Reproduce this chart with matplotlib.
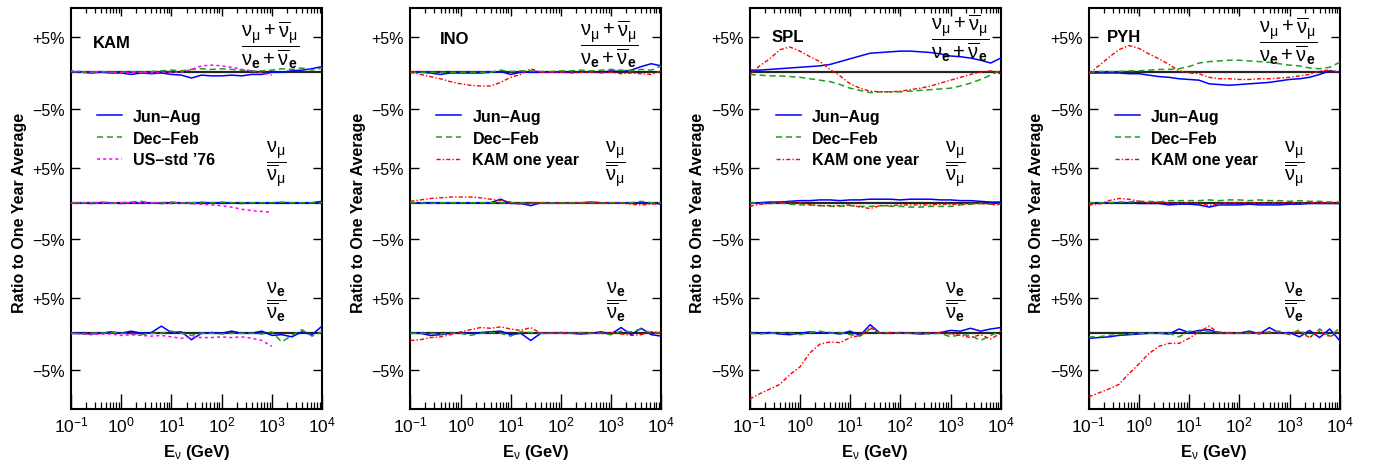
import numpy as np
import matplotlib
matplotlib.use("Agg")
import matplotlib.pyplot as plt
from matplotlib.transforms import blended_transform_factory
from matplotlib.ticker import (FixedLocator, FixedFormatter, NullLocator, NullFormatter,
                               LogLocator, LogFormatterMathtext)

plt.rcParams['font.family'] = ['Liberation Sans', 'DejaVu Sans']
plt.rcParams['mathtext.fontset'] = 'custom'
plt.rcParams['mathtext.rm'] = 'Liberation Sans'
plt.rcParams['mathtext.it'] = 'Liberation Sans'
plt.rcParams['mathtext.bf'] = 'Liberation Sans:bold'

# neutrino energy grid (GeV), 5 points per decade
E = [0.1, 0.158, 0.251, 0.398, 0.631, 1.0, 1.58, 2.51, 3.98, 6.31,
     10, 15.8, 25.1, 39.8, 63.1, 100, 158, 251, 398, 631,
     1000, 1580, 2510, 3980, 6310, 10000]

sites = ["KAM", "INO", "SPL", "PYH"]

# deviations from the one-year average, in percent
# order inside each site: (nu_mu+nubar_mu)/(nu_e+nubar_e), nu_mu/nubar_mu, nu_e/nubar_e
kam_jun = [
    [0, 0, -0.1, 0, -0.1, -0.1, -0.3, -0.1, -0.2, -0.1, -0.3, -0.4, -0.8, -0.4, -0.5, -0.5, -0.4, -0.5, -0.3, -0.3, 0, 0, 0.2, 0.3, 0.5, 0.8],
    [0, 0, -0.1, 0, 0, -0.1, 0, 0, 0, -0.1, 0, 0, -0.1, 0, 0, 0, 0, -0.1, 0, 0, 0, 0, 0, 0, 0, 0.2],
    [0, 0, -0.1, 0, 0.2, 0, 0.3, 0, 0.1, 1.0, 0.1, 0.2, -0.9, 0, 0.1, 0, 0.3, 0, 0, 0.3, -0.3, -0.2, -0.5, 0.2, -0.2, 1.0],
]
kam_dec = [
    [0.1, 0, 0, 0.1, 0, 0, 0.1, 0, 0.1, 0.2, 0.3, 0.2, 0.4, 0.5, 0.4, 0.5, 0.4, 0.3, 0.2, 0.2, 0.3, 0.5, 0.4, 0.6, 0.3, 0.6],
    [0, 0, 0, 0.1, 0, 0, 0.1, 0.2, 0, 0, 0.1, 0, 0, 0.1, 0, 0.1, 0, 0, 0, 0, 0, 0.1, 0, 0, 0, 0],
    [0, -0.1, 0, 0, 0.1, 0, -0.1, -0.2, 0, 0, 0.3, 0, -0.3, 0, 0, -0.1, 0, 0, 0, -0.1, 0.2, -1.2, -0.3, 0.5, -0.4, 0.2],
]
# US standard atmosphere 1976, only up to 1 TeV
kam_us76 = [
    [0.2, 0.1, 0, 0.1, 0, -0.1, 0, 0, -0.1, 0, 0, 0, 0.4, 0.9, 1.0, 0.9, 0.7, 0.4, 0.2, -0.1, -0.4],
    [0, 0, 0, 0, -0.1, 0, 0, 0, 0, 0, -0.1, 0, -0.1, -0.2, -0.3, -0.4, -0.6, -0.9, -1.1, -1.2, -1.3],
    [0, -0.1, -0.2, -0.1, -0.1, -0.3, -0.2, -0.3, -0.4, -0.3, -0.5, -0.7, -0.5, -0.6, -0.6, -0.5, -0.6, -0.5, -0.7, -1.0, -1.8],
]

ino_jun = [
    [0, 0, -0.1, -0.3, -0.1, -0.1, -0.1, -0.1, 0, 0.1, -0.3, 0, 0, 0, 0, 0, 0, 0, 0.1, 0, 0.2, 0.1, 0.3, 0.8, 1.2, 0.9],
    [0, 0, 0, 0, 0, 0, 0, 0, 0, 0.5, -0.1, -0.1, -0.4, 0, 0, 0, 0, 0, 0.1, 0, 0, 0, 0, 0, 0, -0.2],
    [0, 0, -0.3, -0.2, 0, 0, 0, 0.1, 0.2, 0.3, -0.2, 0, -1.0, 0, 0, 0.1, 0, -0.1, 0, 0.2, -0.1, 0.8, -0.2, 0.7, -0.2, -0.4],
]
ino_dec = [
    [0, 0, 0, 0, 0, 0, 0, 0, 0, 0.3, 0.1, 0.2, 0.2, 0.1, 0.1, 0.2, 0.2, 0.3, 0.2, 0.3, 0.4, 0.3, 0.2, 0.4, 0.3, 0.9],
    [0, 0, -0.1, 0, 0, 0, 0, 0, 0, 0, 0, 0, -0.1, 0, 0, 0, 0, 0, 0, 0, 0, 0, 0, 0.2, 0, 0],
    [0, 0, 0, -0.1, 0, 0, -0.3, 0, 0.1, 0, -0.4, 0.2, 0.1, 0, 0, 0, 0, 0.1, 0, 0, -0.2, 0.3, 0.2, 0.6, 0, 0.1],
]
ino_kam = [
    [0, -0.3, -0.6, -0.9, -1.3, -1.6, -1.8, -1.9, -1.9, -1.4, -0.7, -0.3, 0.5, 0, 0, 0, -0.1, 0, 0, -0.1, 0, -0.2, -0.1, -0.2, -0.3, 0.2],
    [0.2, 0.4, 0.6, 0.7, 0.8, 0.8, 0.8, 0.7, 0.5, 0.3, 0.1, -0.2, -0.1, 0, -0.1, 0, -0.1, 0, 0, 0, -0.1, 0, -0.2, -0.3, -0.2, -0.1],
    [-1.0, -0.9, -0.6, -0.5, -0.2, 0.2, 0.5, 0.8, 0.7, 0.9, 0.6, 0.4, 0.8, 0, 0, 0.1, 0, 0, 0, 0, 0.1, -0.1, -0.3, -0.2, 0.2, 0.1],
]

spl_jun = [
    [0.3, 0.3, 0.4, 0.5, 0.6, 0.7, 0.8, 0.9, 1.1, 1.5, 1.9, 2.3, 2.7, 2.8, 2.9, 3.0, 3.0, 2.9, 2.8, 2.6, 2.3, 2.2, 2.0, 1.7, 1.3, 2.0],
    [-0.1, 0, 0.1, 0.1, 0.2, 0.3, 0.3, 0.4, 0.4, 0.3, 0.4, 0.4, 0.5, 0.5, 0.5, 0.4, 0.5, 0.5, 0.5, 0.4, 0.4, 0.3, 0.3, 0.2, 0.1, 0.1],
    [0, 0, 0.1, -0.1, -0.2, 0, 0.2, 0, 0.1, -0.1, 0.3, -0.3, 1.2, 0, 0, 0.1, 0, -0.1, 0, 0.1, 0.4, 0.3, 0.7, 0.3, 0.6, 0.8],
]
spl_dec = [
    [-0.3, -0.4, -0.5, -0.5, -0.6, -0.7, -0.9, -1.1, -1.3, -1.7, -2.2, -2.5, -2.8, -2.7, -2.7, -2.7, -2.6, -2.5, -2.4, -2.3, -2.2, -1.9, -1.5, -1.0, -0.4, 0.3],
    [0, -0.1, -0.1, 0, -0.2, -0.3, -0.3, -0.4, -0.5, -0.5, -0.4, -0.5, -0.5, -0.4, -0.5, -0.5, -0.6, -0.6, -0.5, -0.5, -0.5, -0.3, -0.2, -0.1, -0.2, -0.2],
    [0, -0.1, 0, 0, 0, -0.2, 0.1, 0.3, 0, 0.1, -0.2, -0.4, 0.6, 0, 0.1, 0, 0, 0, -0.1, 0, -0.5, -0.2, -0.3, -1.0, -0.3, 0.3],
]
spl_kam = [
    [-0.3, 0.9, 1.9, 3.2, 3.6, 3.0, 2.2, 1.5, 0.4, -0.5, -1.6, -2.2, -2.6, -2.7, -2.7, -2.6, -2.4, -2.2, -1.9, -1.5, -1.1, -0.7, -0.3, 0, 0.2, -0.2],
    [-0.5, -0.2, -0.1, 0, 0.2, 0, -0.3, -0.4, -0.4, -0.4, -0.3, -0.6, -0.8, -0.4, -0.4, -0.3, -0.3, -0.3, -0.3, -0.2, -0.2, -0.2, -0.1, -0.1, -0.2, -0.3],
    [-8.8, -8.1, -7.5, -6.9, -5.6, -4.6, -2.7, -1.5, -1.2, -1.3, -0.6, -0.3, 0.8, 0, 0.1, 0, 0, 0, 0, 0.1, -0.1, -0.3, -0.6, -0.2, -0.8, 0],
]

pyh_jun = [
    [-0.1, -0.1, -0.1, -0.1, -0.2, -0.2, -0.4, -0.6, -0.7, -0.9, -1.0, -1.1, -1.6, -1.7, -1.8, -1.7, -1.6, -1.5, -1.4, -1.2, -1.0, -0.9, -0.7, -0.3, 0.2, 0],
    [-0.1, 0, 0, 0, 0, -0.1, -0.1, -0.1, -0.3, -0.2, -0.2, -0.3, -0.6, -0.3, -0.3, -0.3, -0.2, -0.3, -0.3, -0.3, -0.2, -0.2, -0.1, -0.1, -0.1, -0.1],
    [-0.7, -0.6, -0.5, -0.3, -0.2, -0.1, 0, 0, -0.1, 0.6, 0.1, 0.4, 0.5, 0, 0, 0, 0.3, -0.1, 0.8, 0, 0.1, -0.5, 0.4, -0.6, 0.6, -1.0],
]
pyh_dec = [
    [0, 0.1, 0.1, 0.1, 0.2, 0.2, 0.3, 0.4, 0.4, 0.5, 0.8, 1.3, 1.5, 1.6, 1.7, 1.7, 1.6, 1.5, 1.4, 1.2, 1.0, 0.9, 0.6, 0.5, 0.7, 1.4],
    [0, 0, 0, 0.1, 0.1, 0.2, 0.2, 0.1, 0.3, 0.3, 0.3, 0.3, 0.4, 0.3, 0.4, 0.4, 0.3, 0.4, 0.3, 0.3, 0.2, 0.3, 0.2, 0.2, 0.1, 0.1],
    [-0.5, -0.5, -0.3, -0.2, -0.1, 0, 0, 0, 0, -0.5, 0.3, 0.2, 0.2, 0.2, 0, 0, 0.1, 0, 0.2, 0.3, -0.2, 0.5, -0.6, 0.6, -0.4, 0.7],
]
pyh_kam = [
    [-0.2, 0.9, 2.1, 3.2, 3.8, 3.4, 2.6, 1.9, 1.1, 0.2, -0.1, -0.2, -0.7, -0.9, -0.9, -1.0, -1.0, -0.9, -0.9, -0.8, -0.7, -0.5, -0.3, 0.2, 0.3, 0],
    [-0.3, -0.2, 0.3, 0.6, 0.5, 0.2, 0, 0.1, 0, -0.1, 0, -0.1, -0.4, -0.1, 0, 0, 0, 0, -0.1, 0, 0, -0.1, 0, 0, 0, 0],
    [-8.5, -8.0, -7.5, -6.9, -5.5, -4.2, -2.8, -1.8, -1.4, -1.4, -0.7, 0.2, 1.0, 0, 0.1, 0, 0, 0.1, 0, 0, -0.1, 0.2, -0.6, 0.3, -0.5, 0.2],
]

jun = [kam_jun, ino_jun, spl_jun, pyh_jun]
dec = [kam_dec, ino_dec, spl_dec, pyh_dec]
third = [kam_us76, ino_kam, spl_kam, pyh_kam]
third_label = ["US\u2013std \u201976", "KAM one year", "KAM one year", "KAM one year"]

# each ratio is stacked on its own baseline (log scale, factor 1.2 apart)
baselines = [1.44, 1.2, 1.0]
frac_text = [
    r"$\dfrac{\nu_\mu + \overline{\nu}_\mu}{\nu_\mathbf{e} + \overline{\nu}_\mathbf{e}}$",
    r"$\dfrac{\nu_\mu}{\overline{\nu}_\mu}$",
    r"$\dfrac{\nu_\mathbf{e}}{\overline{\nu}_\mathbf{e}}$",
]

W, H = 1374, 464
fig = plt.figure(figsize=(W / 100, H / 100), dpi=100)
lefts = [71, 410.3, 749.7, 1088.7]
name_pos = [(0.088, 0.915), (0.118, 0.923), (0.088, 0.930), (0.073, 0.930)]
top_frac_pos = [(0.793, 0.910), (0.793, 0.912), (0.837, 0.928), (0.793, 0.919)]

ytick_vals, ytick_labs = [], []
for b in baselines:
    ytick_vals += [b * 1.05, b * 0.95]
    ytick_labs += ["+5%", "\u22125%"]

for k in range(4):
    ax = fig.add_axes([lefts[k] / W, 54 / H, 251 / W, 401 / H])
    ax.set_xscale("log")
    ax.set_yscale("log")

    for g, b in enumerate(baselines):
        ax.axhline(b, color="0.15", lw=1.6, zorder=1)
        y1 = b * (1 + np.array(jun[k][g]) / 100)
        y2 = b * (1 + np.array(dec[k][g]) / 100)
        y3 = b * (1 + np.array(third[k][g]) / 100)
        l1, = ax.plot(E, y1, color="#0000ff", lw=1.1, zorder=3, label="Jun\u2013Aug")
        l2, = ax.plot(E, y2, color="#1f9e1f", lw=1.1, dashes=(4, 2.5), zorder=3, label="Dec\u2013Feb")
        if k == 0:
            l3, = ax.plot(E[:len(y3)], y3, color="#ff00ff", lw=1.1, dashes=(2, 2),
                          zorder=3, label=third_label[k])
        else:
            l3, = ax.plot(E[:len(y3)], y3, color="#ff0000", lw=1.0,
                          dashes=(3, 1.5, 1, 1.5), zorder=3, label=third_label[k])
        if g == 0:
            handles = [l1, l2, l3]

    ax.set_xlim(0.1, 1e4)
    ax.set_ylim(0.8996, 1.5753)

    ax.xaxis.set_major_locator(LogLocator(base=10, numticks=20))
    ax.xaxis.set_minor_locator(LogLocator(base=10, subs=np.arange(2, 10), numticks=100))
    ax.xaxis.set_major_formatter(LogFormatterMathtext())
    ax.xaxis.set_minor_formatter(NullFormatter())

    ax.yaxis.set_major_locator(FixedLocator(ytick_vals))
    ax.yaxis.set_major_formatter(FixedFormatter(ytick_labs))
    ax.yaxis.set_minor_locator(NullLocator())
    ax.tick_params(axis="y", which="major", direction="in", length=6.5, width=1.0,
                   left=True, right=True, labelsize=11.5, pad=4.5)
    ax.tick_params(axis="x", which="major", direction="in", length=11, width=1.0,
                   labelsize=12.5, pad=4)
    ax.tick_params(axis="x", which="minor", direction="in", length=5, width=0.9)

    # short ticks hanging from the upper edge, at the locator positions
    xmin, xmax = ax.get_xlim()
    top_tf = blended_transform_factory(ax.transData, ax.transAxes)
    maj = [v for v in ax.xaxis.get_majorticklocs() if xmin < v < xmax]
    mnr = [v for v in ax.xaxis.get_minorticklocs() if xmin < v < xmax]
    ax.vlines(maj, 1 - 0.02, 1, transform=top_tf, color="black", lw=1.0,
              clip_on=False, zorder=5)
    ax.vlines(mnr, 1 - 0.012, 1, transform=top_tf, color="black", lw=0.9,
              clip_on=False, zorder=5)

    for s in ax.spines.values():
        s.set_linewidth(1.5)

    ax.set_ylabel("Ratio to One Year Average", fontsize=11.5, fontweight="bold")
    ax.yaxis.set_label_coords(-0.177, 0.4925)
    ax.set_xlabel(r"E$_\nu$ (GeV)", fontsize=12, fontweight="bold")
    ax.xaxis.set_label_coords(0.5, -0.082)

    ax.text(name_pos[k][0], name_pos[k][1], sites[k], transform=ax.transAxes,
            fontsize=12, fontweight="bold", ha="left", va="center")
    ax.text(top_frac_pos[k][0], top_frac_pos[k][1], frac_text[0], transform=ax.transAxes,
            fontsize=14.5, ha="center", va="center")
    ax.text(0.819, 0.613, frac_text[1], transform=ax.transAxes,
            fontsize=14.5, ha="center", va="center")
    ax.text(0.819, 0.268, frac_text[2], transform=ax.transAxes,
            fontsize=14.5, ha="center", va="center")

    ax.legend(handles=handles, loc="upper left", bbox_to_anchor=(0.1036, 0.748),
              frameon=False, borderpad=0, borderaxespad=0, handlelength=1.57,
              handletextpad=0.69, labelspacing=0.42,
              prop={"size": 11.5, "weight": "bold"})

fig.savefig("out.png", dpi=100)
